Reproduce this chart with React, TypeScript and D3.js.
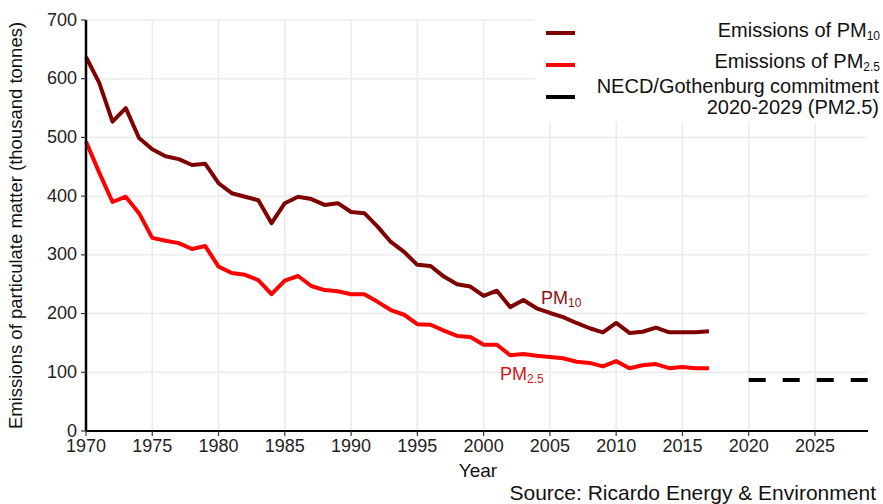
import React from "react";
import * as d3 from "d3";

const years = d3.range(1970, 2018);

const pm10 = [
  637, 593, 527, 550, 499, 480, 468, 463, 453, 455,
  422, 405, 399, 393, 354, 388, 399, 395, 385, 388,
  373, 371, 348, 322, 305, 283, 281, 263, 250, 246,
  230, 239, 211, 223, 209, 201, 194, 184, 175, 168,
  184, 167, 169, 176, 168, 168, 168, 170,
];

const pm25 = [
  493, 440, 390, 399, 371, 329, 324, 320, 310, 315,
  280, 269, 266, 257, 233, 256, 264, 247, 240, 238,
  233, 233, 220, 206, 198, 182, 181, 171, 162, 160,
  147, 147, 129, 131, 128, 126, 124, 118, 116, 110,
  119, 107, 112, 114, 107, 109, 107, 107,
];

const commitmentYears = [2020, 2029];
const commitmentValue = 87;

const xTicks = [1970, 1975, 1980, 1985, 1990, 1995, 2000, 2005, 2010, 2015, 2020, 2025];
const yTicks = [0, 100, 200, 300, 400, 500, 600, 700];

const W = 883;
const H = 504;
const margin = { top: 20, right: 15, bottom: 73, left: 86 };

const font = "'Liberation Sans', Arial, sans-serif";

export default function App() {
  const x = d3
    .scaleLinear()
    .domain([1970, 2029])
    .range([margin.left, W - margin.right]);
  const y = d3
    .scaleLinear()
    .domain([0, 700])
    .range([H - margin.bottom, margin.top]);

  const line = d3
    .line<number>()
    .x((_, i) => x(years[i]))
    .y((d) => y(d));

  const x0 = margin.left;
  const x1 = W - margin.right;
  const y0 = H - margin.bottom;

  return (
    <div style={{ position: "absolute", left: 0, top: 0 }}>
      <svg width={W} height={H} style={{ display: "block", background: "#fff" }} fontFamily={font}>
        {/* grid */}
        <g stroke="#ebebeb" strokeWidth={1.5}>
          {yTicks.filter((t) => t > 0).map((t) => (
            <line key={"gy" + t} x1={x0} x2={x1} y1={y(t)} y2={y(t)} />
          ))}
          {xTicks.filter((t) => t > 1970).map((t) => (
            <line key={"gx" + t} x1={x(t)} x2={x(t)} y1={margin.top} y2={y0} />
          ))}
        </g>

        {/* legend box covers grid */}
        <rect x={535} y={0} width={W - 535} height={122} fill="#fff" />
        <g fontSize={20} fill="#111" textAnchor="end">
          <line x1={546} x2={575} y1={33} y2={33} stroke="#7f0000" strokeWidth={4} />
          <text x={880} y={37}>
            Emissions of PM
            <tspan fontSize={12} dy={3}>10</tspan>
          </text>
          <line x1={546} x2={575} y1={65} y2={65} stroke="#ff0000" strokeWidth={4} />
          <text x={880} y={68}>
            Emissions of PM
            <tspan fontSize={12} dy={3}>2.5</tspan>
          </text>
          <line x1={546} x2={575} y1={97} y2={97} stroke="#000" strokeWidth={4} />
          <text x={879} y={93}>NECD/Gothenburg commitment</text>
          <text x={879} y={114}>2020-2029 (PM2.5)</text>
        </g>

        {/* series */}
        <path d={line(pm10) || ""} fill="none" stroke="#7f0000" strokeWidth={4} strokeLinejoin="round" />
        <path d={line(pm25) || ""} fill="none" stroke="#ff0000" strokeWidth={4} strokeLinejoin="round" />
        <line
          x1={x(commitmentYears[0])}
          x2={x(commitmentYears[1])}
          y1={y(commitmentValue)}
          y2={y(commitmentValue)}
          stroke="#000"
          strokeWidth={4}
          strokeDasharray="17 17"
        />

        {/* inline labels */}
        <text x={541} y={304} fontSize={18} fill="#8b1414">
          PM<tspan fontSize={12} dy={3}>10</tspan>
        </text>
        <text x={500} y={380} fontSize={18} fill="#d01818">
          PM<tspan fontSize={12} dy={3}>2.5</tspan>
        </text>

        {/* axes */}
        <line x1={x0} x2={x0} y1={margin.top} y2={y0} stroke="#000" strokeWidth={2.5} />
        <line x1={x0} x2={x1} y1={y0} y2={y0} stroke="#000" strokeWidth={2} />
        <g fontSize={18} fill="#222">
          {yTicks.map((t) => (
            <g key={"yt" + t}>
              <line x1={x0 - 5} x2={x0} y1={y(t)} y2={y(t)} stroke="#333" strokeWidth={1.2} />
              <text x={x0 - 9} y={y(t)} dy={5.5} textAnchor="end">
                {t}
              </text>
            </g>
          ))}
          {xTicks.map((t) => (
            <g key={"xt" + t}>
              <line x1={x(t)} x2={x(t)} y1={y0} y2={y0 + 5} stroke="#333" strokeWidth={1.2} />
              <text x={x(t)} y={y0 + 21} textAnchor="middle">
                {t}
              </text>
            </g>
          ))}
        </g>

        <text x={478} y={477} fontSize={19} fill="#111" textAnchor="middle">
          Year
        </text>
        <text
          transform={`translate(22,${(margin.top + y0) / 2}) rotate(-90)`}
          fontSize={18.5}
          fill="#111"
          textAnchor="middle"
        >
          Emissions of particulate matter (thousand tonnes)
        </text>
        <text x={876} y={500} fontSize={21} fill="#111" textAnchor="end">
          Source: Ricardo Energy &amp; Environment
        </text>
      </svg>
    </div>
  );
}
